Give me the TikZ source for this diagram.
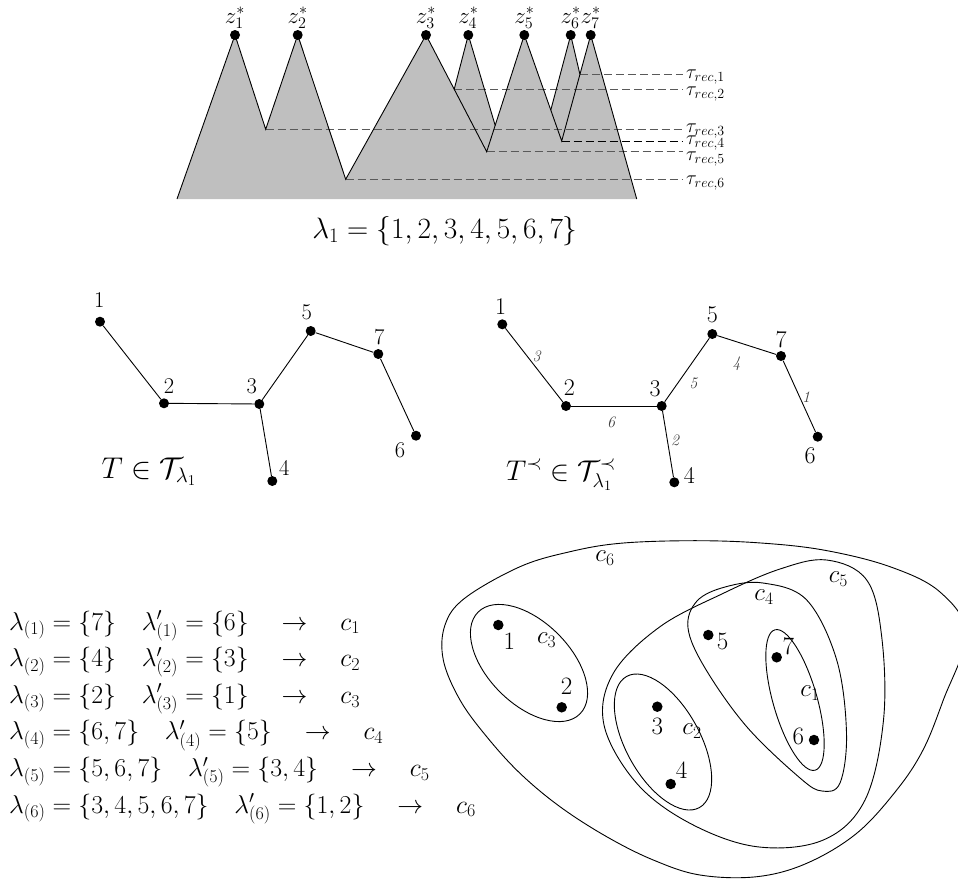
\documentclass[tikz,border=0pt]{standalone}
\usepackage{fix-cm}
\begin{document}
\begin{tikzpicture}[x=1pt,y=-1pt,
  ln/.style={line width=0.9pt},
  dsh/.style={line width=0.9pt, dash pattern=on 8pt off 4pt, draw=black!65},
  dsk/.style={line width=0.9pt, dash pattern=on 8pt off 4pt, draw=black},
  pk/.style={circle, fill=black, inner sep=0pt, minimum size=10pt},
  dot/.style={circle, fill=black, inner sep=0pt, minimum size=10.5pt},
  zlab/.style={font=\fontsize{23}{27}\selectfont, inner sep=0pt},
  tlab/.style={font=\fontsize{20}{24}\selectfont, inner sep=0pt, anchor=base west},
  bigcap/.style={font=\fontsize{29.4}{35}\selectfont, inner sep=0pt, anchor=base},
  nlab/.style={font=\fontsize{22.5}{27}\selectfont, inner sep=0pt},
  nlabr/.style={font=\fontsize{24}{28}\selectfont, inner sep=0pt},
  tcap/.style={font=\fontsize{30}{35}\selectfont, inner sep=0pt, anchor=base},
  elab/.style={font=\fontsize{16}{19}\selectfont\itshape, text=black!75, inner sep=0pt},
  row/.style={font=\fontsize{25.8}{31}\selectfont, inner sep=0pt, anchor=base west},
  clab/.style={font=\fontsize{25}{30}\selectfont, inner sep=0pt}
]
\useasboundingbox (0,0) rectangle (958,881);

% ---------------- top: mountains ----------------
\coordinate (BL) at (177,199);
\coordinate (BR) at (636.7,199);
\coordinate (z1) at (235,35);
\coordinate (z2) at (297.7,35);
\coordinate (z3) at (426,35);
\coordinate (z4) at (468.3,35);
\coordinate (z5) at (524.3,35);
\coordinate (z6) at (570.7,35);
\coordinate (z7) at (590.7,35);
\coordinate (v12) at (265.7,129.3);
\coordinate (v23) at (345.7,179.3);
\coordinate (v35) at (486.7,151.7);
\coordinate (v57) at (561.7,141);
\coordinate (i34) at (454.2,89.3);
\coordinate (i45) at (495.2,125.5);
\coordinate (i56) at (550.8,110);
\coordinate (i67) at (579.9,74.3);

\fill[black!25] (BL) -- (z1) -- (v12) -- (z2) -- (v23) -- (z3) -- (i34) -- (z4) -- (i45)
  -- (z5) -- (i56) -- (z6) -- (i67) -- (z7) -- (BR) -- cycle;

\coordinate (t1) at (683,74.3);
\coordinate (t2) at (683,89.3);
\coordinate (t3) at (683,129.3);
\coordinate (t4) at (683,141);
\coordinate (t5) at (683,151.7);
\coordinate (t6) at (683,179.3);
\draw[dsh] (i67) -- (t1);
\draw[dsh] (i34) -- (t2);
\draw[dsh] (v12) -- (t3);
\draw[dsk] (v57) -- (t4);
\draw[dsh] (v35) -- (t5);
\draw[dsh] (v23) -- (t6);

\draw[ln] (z1) -- (BL);
\draw[ln] (z1) -- (v12) -- (z2) -- (v23) -- (z3) -- (v35) -- (z5) -- (v57) -- (z7) -- (BR);
\draw[ln] (z4) -- (i34);
\draw[ln] (z4) -- (i45);
\draw[ln] (i56) -- (z6) -- (i67);

\foreach \k in {1,...,7}{
  \node[pk] (pz\k) at (z\k) {};
  \node[zlab, anchor=south] (lz\k) at ([yshift=6pt]z\k) {$z_{\k}^{*}$};
}

\node[tlab] (lt1) at (686,78.5) {$\tau_{rec,1}$};
\node[tlab] (lt2) at (686,95) {$\tau_{rec,2}$};
\node[tlab] (lt3) at (686,132.5) {$\tau_{rec,3}$};
\node[tlab] (lt4) at (686,144.5) {$\tau_{rec,4}$};
\node[tlab] (lt5) at (686,160) {$\tau_{rec,5}$};
\node[tlab] (lt6) at (686,184) {$\tau_{rec,6}$};

\node[bigcap] (cap1) at (445,238.3) {$\lambda_1=\{1,2,3,4,5,6,7\}$};

% ---------------- left tree ----------------
\node[pk] (a1) at (100,321.7) {};
\node[pk] (a2) at (164,403.3) {};
\node[pk] (a3) at (259.3,404) {};
\node[pk] (a4) at (272.3,481) {};
\node[pk] (a5) at (310.7,331) {};
\node[pk] (a7) at (378.3,354) {};
\node[pk] (a6) at (416,435.7) {};
\draw[ln] (a1) -- (a2);
\draw[ln] (a2) -- (a3);
\draw[ln] (a3) -- (a4);
\draw[ln] (a3) -- (a5);
\draw[ln] (a5) -- (a7);
\draw[ln] (a7) -- (a6);
\node[nlab] (la1) at (99.3,300) {1};
\node[nlab] (la2) at (169,386) {2};
\node[nlab] (la3) at (251.7,386) {3};
\node[nlab] (la4) at (284.3,468.3) {4};
\node[nlab] (la5) at (306.7,312.3) {5};
\node[nlab] (la7) at (379.3,336.7) {7};
\node[nlab] (la6) at (400,450) {6};
\node[tcap] (capL) at (149,478.3) {$T\in\mathcal{T}_{\lambda_1}$};

% ---------------- right tree ----------------
\node[pk] (b1) at (502.3,324.3) {};
\node[pk] (b2) at (566,406) {};
\node[pk] (b3) at (661.7,406) {};
\node[pk] (b4) at (674.3,482.3) {};
\node[pk] (b5) at (712.3,334) {};
\node[pk] (b7) at (781,356) {};
\node[pk] (b6) at (817.7,436.7) {};
\draw[ln] (b1) -- (b2);
\draw[ln] (b2) -- (b3);
\draw[ln] (b3) -- (b4);
\draw[ln] (b3) -- (b5);
\draw[ln] (b5) -- (b7);
\draw[ln] (b7) -- (b6);
\node[nlabr] (lb1) at (500.7,306.7) {1};
\node[nlabr] (lb2) at (569.3,387.3) {2};
\node[nlabr] (lb3) at (655,388.3) {3};
\node[nlabr] (lb4) at (689.3,475) {4};
\node[nlabr] (lb5) at (712.3,315) {5};
\node[nlabr] (lb7) at (781,340) {7};
\node[nlabr] (lb6) at (810,455.7) {6};
\node[elab] (e12) at (536.7,356) {3};
\node[elab] (e23) at (611,422.7) {6};
\node[elab] (e35) at (693.3,383.3) {5};
\node[elab] (e57) at (736.7,363.3) {4};
\node[elab] (e76) at (806,396.7) {1};
\node[elab] (e34) at (675,440) {2};
\node[tcap, font=\fontsize{28.5}{34}\selectfont] (capR) at (561,480) {$T^{\prec}\in\mathcal{T}^{\prec}_{\lambda_1}$};

% ---------------- list ----------------
\node[row] (r1) at (9,630) {$\lambda_{(1)}=\{7\}\quad\lambda'_{(1)}=\{6\}\quad\rightarrow\quad c_1$};
\node[row] (r2) at (9,666.6) {$\lambda_{(2)}=\{4\}\quad\lambda'_{(2)}=\{3\}\quad\rightarrow\quad c_2$};
\node[row] (r3) at (9,703.2) {$\lambda_{(3)}=\{2\}\quad\lambda'_{(3)}=\{1\}\quad\rightarrow\quad c_3$};
\node[row] (r4) at (9,739.8) {$\lambda_{(4)}=\{6,7\}\quad\lambda'_{(4)}=\{5\}\quad\rightarrow\quad c_4$};
\node[row] (r5) at (9,776.4) {$\lambda_{(5)}=\{5,6,7\}\quad\lambda'_{(5)}=\{3,4\}\quad\rightarrow\quad c_5$};
\node[row] (r6) at (9,813) {$\lambda_{(6)}=\{3,4,5,6,7\}\quad\lambda'_{(6)}=\{1,2\}\quad\rightarrow\quad c_6$};

% ---------------- clusters ----------------
% c6
\draw[ln] plot[smooth cycle, tension=0.6] coordinates {
  (690,540.7) (756.7,542.7) (823.3,550) (890,566.7) (940,592) (966,634) (943.3,700)
  (923,750) (896.7,790) (856.7,833.3) (806.7,863.3) (756.7,876.7) (700,875)
  (653.3,860) (606.7,836.7) (560,806.7) (520,773.3) (486.7,736.7) (460,700)
  (443.3,660) (445,625) (465,598) (520,566.7) (570,551.7) (620,543.3)};
% c5
\draw[ln] plot[smooth cycle, tension=0.6] coordinates {
  (826.7,560) (866.7,580) (881.7,636.7) (883.5,720) (865,800) (823.3,840)
  (756.7,846.7) (690,823.3) (636.7,783.3) (604,725) (613.3,673.3) (660,626.7)
  (723.3,593.3) (780,569)};
% c4
\draw[ln] plot[smooth cycle, tension=0.6] coordinates {
  (763,583) (806.7,600) (836.7,660) (846.5,733) (840,783) (822,791) (800,778)
  (746.7,726.7) (705,668) (688,628) (697,601) (725,587)};
% c1
\draw[ln, rotate around={-74:(795,700)}] (795,700) ellipse [x radius=73, y radius=22];
% c2
\draw[ln, rotate around={-61:(663,742)}] (663,742) ellipse [x radius=75, y radius=37];
% c3
\draw[ln, rotate around={-45:(529,663)}] (529,663) ellipse [x radius=72, y radius=41];

\node[dot] (d1) at (498.3,625) {};
\node[dot] (d2) at (561.7,707.3) {};
\node[dot] (d3) at (657.3,706.7) {};
\node[dot] (d4) at (670.7,784) {};
\node[dot] (d5) at (708.3,635) {};
\node[dot] (d6) at (814,740) {};
\node[dot] (d7) at (776.7,657.3) {};
\node[clab] (ld1) at (509.3,641.7) {1};
\node[clab] (ld2) at (566.7,686.7) {2};
\node[clab] (ld3) at (657.3,726.7) {3};
\node[clab] (ld4) at (681.7,770) {4};
\node[clab] (ld5) at (722.7,641.7) {5};
\node[clab] (ld6) at (798.3,736.7) {6};
\node[clab] (ld7) at (788.3,646.7) {7};
\node[clab] (c6) at (605,558.3) {$c_6$};
\node[clab] (c5) at (838.3,579.3) {$c_5$};
\node[clab] (c4) at (764,597.3) {$c_4$};
\node[clab] (c3) at (546.7,640) {$c_3$};
\node[clab] (c2) at (692,731) {$c_2$};
\node[clab] (c1) at (810,693) {$c_1$};
\end{tikzpicture}
\end{document}
